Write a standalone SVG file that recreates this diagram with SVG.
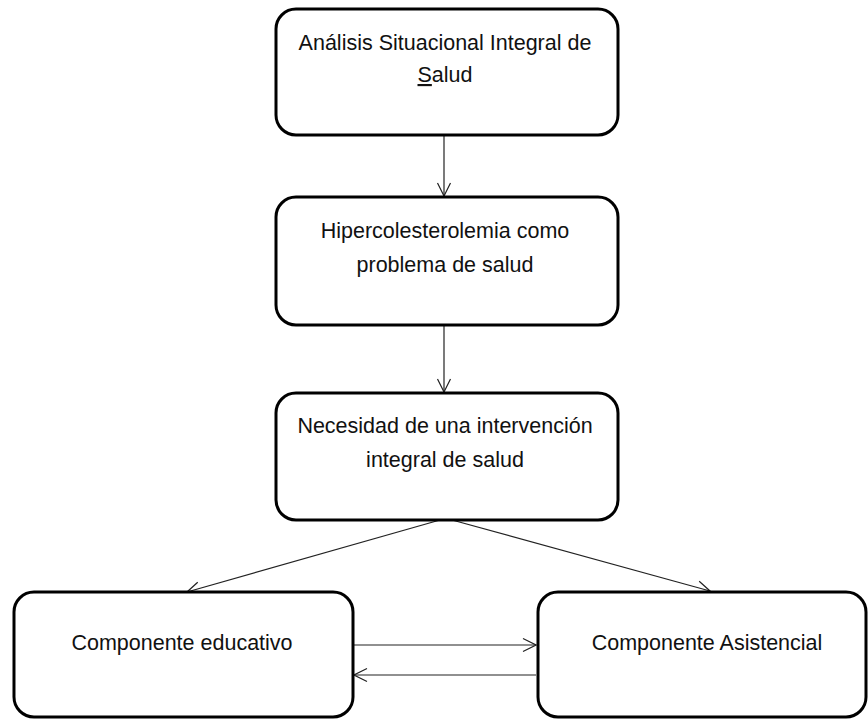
<svg xmlns="http://www.w3.org/2000/svg" width="868" height="719" viewBox="0 0 868 719">
<style>
.box{fill:#fff;stroke:#000;stroke-width:3}
.t{font-family:"Liberation Sans",Arial,sans-serif;font-size:21.5px;fill:#111;text-anchor:middle}
.c{stroke:#222;stroke-width:1.2;fill:none}
</style>
<defs>
<marker id="ah" viewBox="0 0 16 16" refX="15" refY="8" markerWidth="16" markerHeight="16" markerUnits="userSpaceOnUse" orient="auto">
<path d="M2,1.5 L15,8 L2,14.5" fill="none" stroke="#222" stroke-width="1.2"/>
</marker>
</defs>
<rect width="868" height="719" fill="#fff"/>
<g id="connectors">
<line class="c" x1="444" y1="135" x2="444" y2="196" marker-end="url(#ah)"/>
<line class="c" x1="444" y1="325" x2="444" y2="392" marker-end="url(#ah)"/>
<line class="c" x1="440" y1="520" x2="187" y2="592" marker-end="url(#ah)"/>
<line class="c" x1="452" y1="520" x2="710" y2="591" marker-end="url(#ah)"/>
<line class="c" x1="354" y1="645" x2="536" y2="645" marker-end="url(#ah)"/>
<line class="c" x1="536" y1="675" x2="354" y2="675" marker-end="url(#ah)"/>
</g>
<g id="n1">
<rect class="box" x="276" y="9" width="342" height="126" rx="20"/>
<text class="t" x="445" y="50">Análisis Situacional Integral de</text>
<text class="t" x="445" y="82"><tspan text-decoration="underline">S</tspan>alud</text>
</g>
<g id="n2">
<rect class="box" x="276" y="197" width="342" height="128" rx="20"/>
<text class="t" x="445" y="238">Hipercolesterolemia como</text>
<text class="t" x="445" y="272">problema de salud</text>
</g>
<g id="n3">
<rect class="box" x="276" y="393" width="342" height="127" rx="20"/>
<text class="t" x="445" y="433">Necesidad de una intervención</text>
<text class="t" x="445" y="467">integral de salud</text>
</g>
<g id="n4">
<rect class="box" x="14" y="592" width="339" height="125" rx="20"/>
<text class="t" x="182" y="650">Componente educativo</text>
</g>
<g id="n5">
<rect class="box" x="538" y="592" width="328" height="125" rx="20"/>
<text class="t" x="707" y="650">Componente Asistencial</text>
</g>
</svg>
